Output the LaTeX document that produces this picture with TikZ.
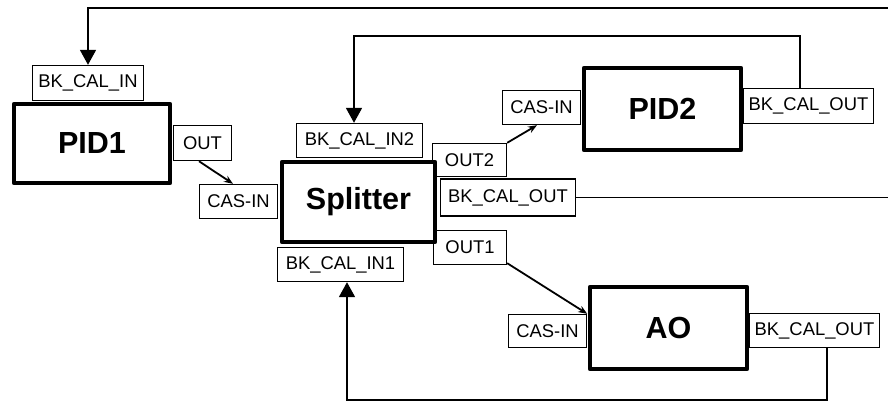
\documentclass[tikz,border=0pt]{standalone}
\usepackage{fontspec}
\setmainfont{Liberation Sans}
\usetikzlibrary{positioning,arrows.meta}

\tikzset{
  portbox/.style={draw,fill=white,line width=1.4pt,inner sep=0pt,font=\fontsize{18.4}{20}\selectfont},
  blockbox/.style={draw,fill=white,line width=4.5pt,line join=round,inner sep=0pt,font=\fontsize{30.5}{32}\selectfont\bfseries},
  feedback/.style={line width=1.8pt,-{Triangle[length=15pt,width=16pt]}},
  cascade/.style={line width=1.8pt,-{Stealth[length=9pt,width=7pt,inset=3pt]}},
  plainline/.style={line width=1.8pt}
}

\begin{document}
\begin{tikzpicture}[x=1pt,y=-1pt]
        \useasboundingbox (0,0) rectangle (888,402);
        % ports
        \node[portbox,minimum width=111pt,minimum height=35pt] (p1bkin) at (88,83) {BK\_CAL\_IN};
        \node[portbox,minimum width=58pt,minimum height=35pt] (p1out) at (202.5,143) {OUT};
        \node[portbox,minimum width=78pt,minimum height=34pt] (scasin) at (238.5,201.5) {CAS-IN};
        \node[portbox,minimum width=126pt,minimum height=34pt] (sbkin2) at (359.5,140.5) {BK\_CAL\_IN2};
        \node[portbox,minimum width=126pt,minimum height=34pt] (sbkin1) at (340.5,264.5) {BK\_CAL\_IN1};
        \node[portbox,minimum width=74pt,minimum height=33pt] (sout2) at (469.5,160) {OUT2};
        \node[portbox,minimum width=135pt,minimum height=37pt] (sbkout) at (508,197.5) {BK\_CAL\_OUT};
        \node[portbox,minimum width=73pt,minimum height=34pt] (sout1) at (470,247.5) {OUT1};
        \node[portbox,minimum width=78pt,minimum height=34pt] (p2casin) at (541.5,107.5) {CAS-IN};
        \node[portbox,minimum width=130pt,minimum height=35pt] (p2bkout) at (808.5,106) {BK\_CAL\_OUT};
        \node[portbox,minimum width=78pt,minimum height=33pt] (aocasin) at (547.5,331) {CAS-IN};
        \node[portbox,minimum width=130pt,minimum height=34pt] (aobkout) at (814.5,330.5) {BK\_CAL\_OUT};
        % blocks
        \node[blockbox,minimum width=156pt,minimum height=79pt] (pid1) at (92,143.5) {PID1};
        \node[blockbox,minimum width=153pt,minimum height=80pt] (splitter) at (358.5,202) {Splitter};
        \node[blockbox,minimum width=157pt,minimum height=82pt] (pid2) at (662.5,109) {PID2};
        \node[blockbox,minimum width=157pt,minimum height=82pt] (ao) at (668.5,328) {AO};
        % feedback lines
        \coordinate (edgetop) at (888,8);
        \coordinate (turn2) at (800,36);
        \coordinate (turn1) at (827,400);
        \draw[feedback] (edgetop) -| (p1bkin.north);
        \draw[feedback] (p2bkout.north -| turn2) -- (turn2) -| ([xshift=-5.5pt]sbkin2.north);
        \draw[plainline] (sbkout.east) -- (sbkout.east -| edgetop);
        \draw[feedback] (aobkout.south -| turn1) -- (turn1) -| ([xshift=6.5pt]sbkin1.south);
        % cascade links
        \draw[cascade] ([xshift=-3.5pt]p1out.south) -- ([xshift=-5.5pt]scasin.north);
        \draw[cascade] (sout2.north east) -- ([xshift=-4.5pt]p2casin.south);
        \draw[cascade] ([yshift=2pt]sout1.south east) -- (aocasin.north east);
\end{tikzpicture}
\end{document}
